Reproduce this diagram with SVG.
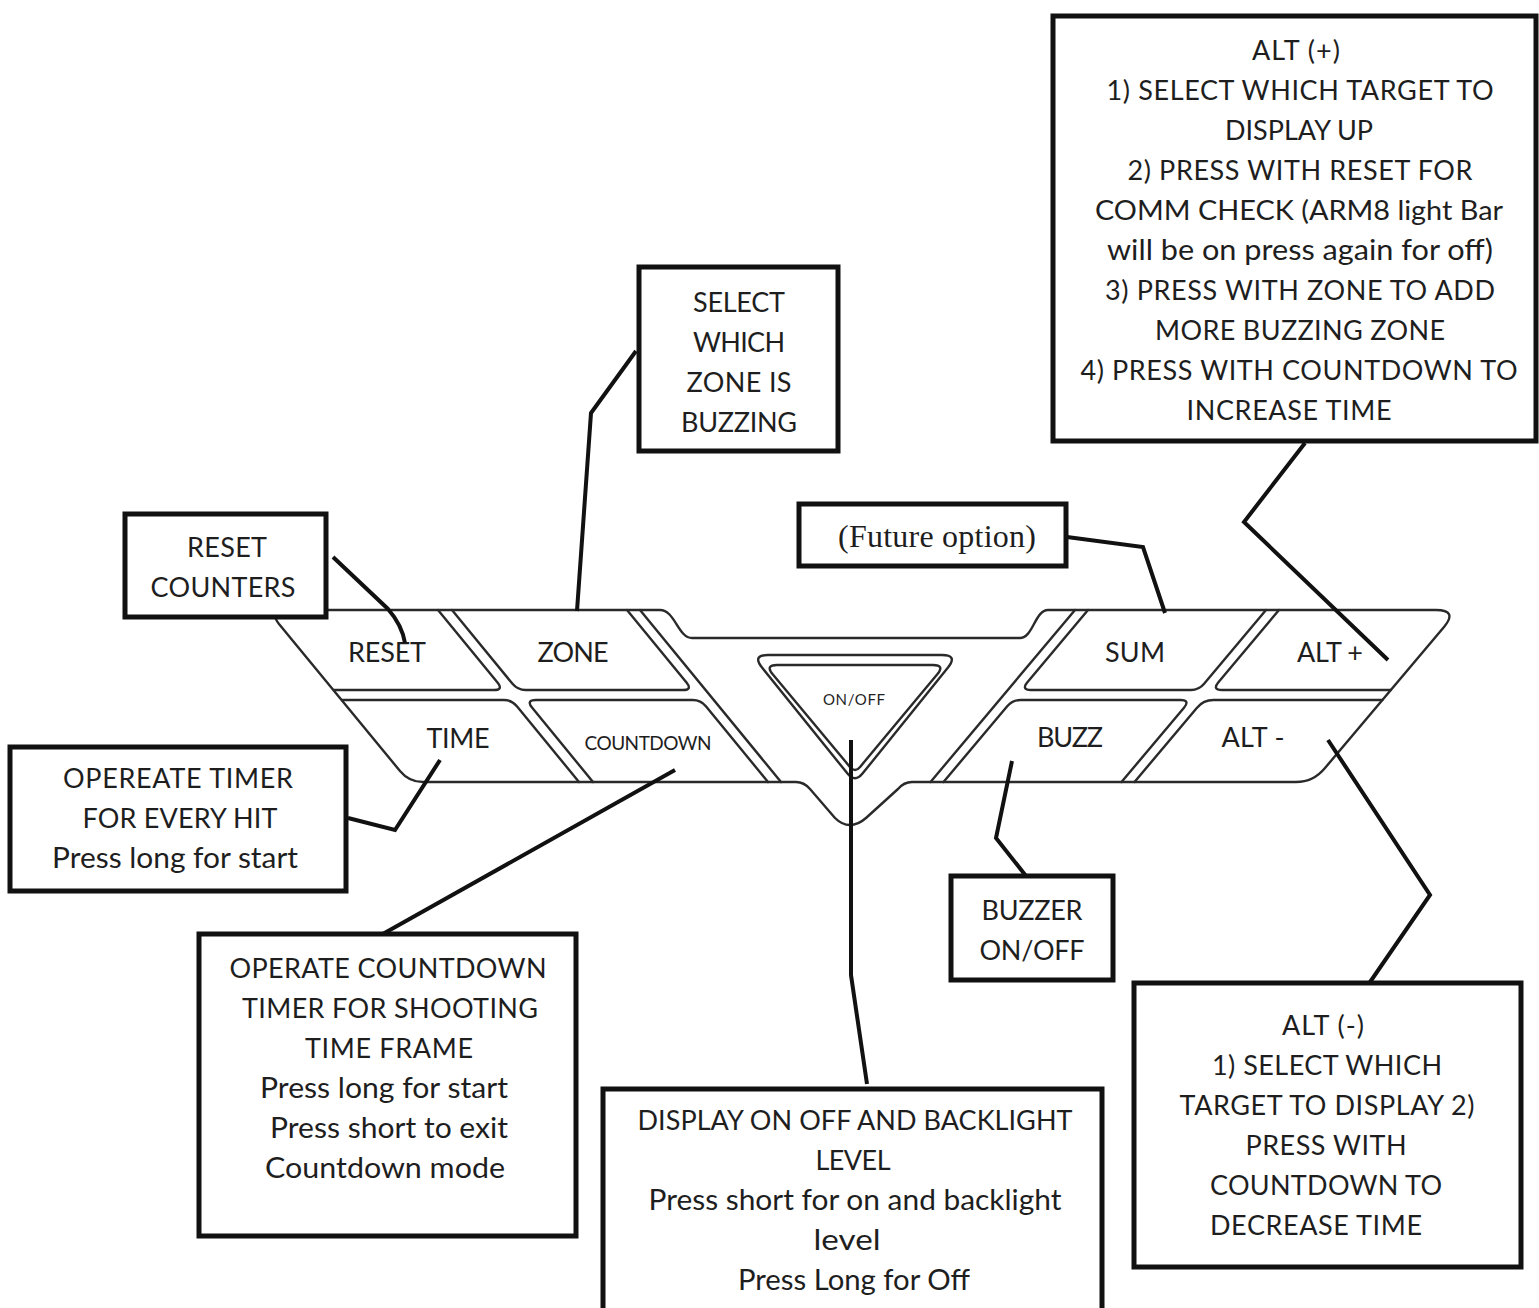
<svg xmlns="http://www.w3.org/2000/svg" width="1539" height="1308" viewBox="0 0 1539 1308">
<style>
.bg{fill:#ffffff}
.pad{fill:none;stroke:#2a2a2a;stroke-width:2.4;stroke-linejoin:round;stroke-linecap:round}
.box{fill:#ffffff;stroke:#111;stroke-width:5}
.con{fill:none;stroke:#111;stroke-width:4;stroke-linejoin:miter;stroke-linecap:butt}
.t{font-family:Lato,"Open Sans","Liberation Sans",sans-serif;font-size:27px;fill:#1e1e1e;text-anchor:middle}
.lc{font-size:28px}
.k{font-family:Lato,"Open Sans","Liberation Sans",sans-serif;font-size:27px;fill:#1e1e1e;text-anchor:middle}
.ks{font-size:19px}
.kx{font-size:15px}
.serif{font-family:"Liberation Serif","Times New Roman",serif;font-size:32px;fill:#1e1e1e;text-anchor:middle}
</style>
<rect class="bg" x="0" y="0" width="1539" height="1308"/>

<g id="keypad">
  <path class="pad" d="M286,610 L660,610 C675,610 678,638 692,638 L1020,638 C1033,638 1035,610 1048,610 L1436,610 Q1458,610 1444,627 L1325,768 Q1313.5,782 1296,782 L912,782 Q904,782 898,789 L866,818 Q858,825 850,825 Q842,825 835,818 L810,789 Q804,782 796,782 L423,782 Q409,782 400,771 L279,624 Q268,610 286,610 Z"/>
  <path class="pad" d="M334,690 L494,690 Q503.6,690 497.5,682.5 L438,610"/>
  <path class="pad" d="M452,610 L512.5,683.8 Q517.6,690 525.6,690 L683,690 Q692.6,690 686.5,682.5 L627,610"/>
  <path class="pad" d="M342,700 L504,700 Q511.8,700 516.9,706.2 L579,782"/>
  <path class="pad" d="M593,782 L532.2,707.8 Q525.8,700 536,700 L692.8,700 Q700.8,700 705.9,706.2 L768,782"/>
  <path class="pad" d="M640,610 L781,782"/>
  <path class="pad" d="M1075,610 L930.5,782"/>
  <path class="pad" d="M1088,610 L1027.4,682.3 Q1021,690 1031,690 L1191,690 Q1199,690 1204.1,683.8 L1266,610"/>
  <path class="pad" d="M1279,610 L1218.4,682.3 Q1212,690 1222,690 L1390.8,690"/>
  <path class="pad" d="M943.5,782 L1007,706.5 Q1012.4,700 1020.4,700 L1180.4,700 Q1190.4,700 1184,707.7 L1121.5,782"/>
  <path class="pad" d="M1134.5,782 L1197,707.7 Q1203.4,700 1213.4,700 L1382.4,700"/>
  <path class="pad" d="M768,655 L942,655 Q958,655 948,667.5 L862.5,773.6 Q855,783 847.5,773.6 L762,667.5 Q752,655 768,655 Z"/>
  <path class="pad" d="M777,665 L933,665 Q945,665 937.3,674.2 L860.1,766.9 Q855,773 849.9,766.9 L772.7,674.2 Q765,665 777,665 Z"/>
  <text class="k" x="387" y="662" textLength="78">RESET</text>
  <text class="k" x="573" y="662" textLength="71">ZONE</text>
  <text class="k" x="458" y="748" textLength="63">TIME</text>
  <text class="k ks" x="648" y="750" textLength="127">COUNTDOWN</text>
  <text class="k kx" x="854" y="705" textLength="62">ON/OFF</text>
  <text class="k" x="1135" y="662" textLength="60">SUM</text>
  <text class="k" x="1330" y="662" textLength="66">ALT +</text>
  <text class="k" x="1070" y="747" textLength="66">BUZZ</text>
  <text class="k" x="1253" y="747" textLength="63">ALT -</text>
</g>

<g id="connectors">
  <path class="con" d="M333,557 L388,609 Q402,625 405,643"/>
  <path class="con" d="M577,611 L591,413 L636,351"/>
  <path class="con" d="M348,818 L395,830 L440,760"/>
  <path class="con" d="M381,935 L675,770"/>
  <path class="con" d="M851,740 L851,975 L867,1084"/>
  <path class="con" d="M1067,537 L1143,547 L1165,613"/>
  <path class="con" d="M1305,443 L1244,522 L1388,660"/>
  <path class="con" d="M1012,761 L996,838 L1026,876"/>
  <path class="con" d="M1328,740 L1430,895 L1368,985"/>
</g>

<g id="reset-counters">
  <rect class="box" x="125" y="514" width="201" height="103"/>
  <text class="t" x="227" y="557" textLength="80">RESET</text>
  <text class="t" x="223" y="597" textLength="145">COUNTERS</text>
</g>

<g id="select-zone">
  <rect class="box" x="639" y="267" width="199" height="184"/>
  <text class="t" x="739" y="312" textLength="92">SELECT</text>
  <text class="t" x="739" y="352" textLength="92">WHICH</text>
  <text class="t" x="739" y="392" textLength="105">ZONE IS</text>
  <text class="t" x="739" y="432" textLength="116">BUZZING</text>
</g>

<g id="future-option">
  <rect class="box" x="799" y="504" width="267" height="62"/>
  <text class="serif" x="937" y="547" textLength="198">(Future option)</text>
</g>

<g id="alt-plus">
  <rect class="box" x="1053" y="16" width="483" height="425"/>
  <text class="t" x="1296" y="60" textLength="88">ALT (+)</text>
  <text class="t" x="1300" y="100" textLength="387">1) SELECT WHICH TARGET TO</text>
  <text class="t" x="1299" y="140" textLength="148">DISPLAY UP</text>
  <text class="t" x="1300" y="180" textLength="345">2) PRESS WITH RESET FOR</text>
  <text class="t" x="1299" y="220" textLength="408" lengthAdjust="spacingAndGlyphs">COMM CHECK (ARM8 light Bar</text>
  <text class="t lc" x="1300" y="260" textLength="386" lengthAdjust="spacingAndGlyphs">will be on press again for off)</text>
  <text class="t" x="1300" y="300" textLength="390">3) PRESS WITH ZONE TO ADD</text>
  <text class="t" x="1300" y="340" textLength="290">MORE BUZZING ZONE</text>
  <text class="t" x="1299" y="380" textLength="437">4) PRESS WITH COUNTDOWN TO</text>
  <text class="t" x="1289" y="420" textLength="205">INCREASE TIME</text>
</g>

<g id="operate-timer">
  <rect class="box" x="10" y="747" width="336" height="144"/>
  <text class="t" x="178" y="788" textLength="230">OPEREATE TIMER</text>
  <text class="t" x="180" y="828" textLength="195">FOR EVERY HIT</text>
  <text class="t lc" x="175" y="868" textLength="246" lengthAdjust="spacingAndGlyphs">Press long for start</text>
</g>

<g id="operate-countdown">
  <rect class="box" x="199" y="934" width="377" height="302"/>
  <text class="t" x="388" y="978" textLength="317">OPERATE COUNTDOWN</text>
  <text class="t" x="390" y="1018" textLength="296">TIMER FOR SHOOTING</text>
  <text class="t" x="389" y="1058" textLength="168">TIME FRAME</text>
  <text class="t lc" x="384" y="1098" textLength="248" lengthAdjust="spacingAndGlyphs">Press long for start</text>
  <text class="t lc" x="389" y="1138" textLength="238" lengthAdjust="spacingAndGlyphs">Press short to exit</text>
  <text class="t lc" x="385" y="1178" textLength="240" lengthAdjust="spacingAndGlyphs">Countdown mode</text>
</g>

<g id="display-onoff">
  <rect class="box" x="603" y="1089" width="499" height="240"/>
  <text class="t" x="855" y="1130" textLength="435">DISPLAY ON OFF AND BACKLIGHT</text>
  <text class="t" x="853" y="1170" textLength="75">LEVEL</text>
  <text class="t lc" x="855" y="1210" textLength="413" lengthAdjust="spacingAndGlyphs">Press short for on and backlight</text>
  <text class="t lc" x="847" y="1250" textLength="67" lengthAdjust="spacingAndGlyphs">level</text>
  <text class="t lc" x="854" y="1290" textLength="232" lengthAdjust="spacingAndGlyphs">Press Long for Off</text>
</g>

<g id="buzzer">
  <rect class="box" x="951" y="876" width="162" height="104"/>
  <text class="t" x="1032" y="920" textLength="101">BUZZER</text>
  <text class="t" x="1032" y="960" textLength="105">ON/OFF</text>
</g>

<g id="alt-minus">
  <rect class="box" x="1134" y="983" width="387" height="284"/>
  <text class="t" x="1323" y="1035" textLength="82">ALT (-)</text>
  <text class="t" x="1327" y="1075" textLength="230">1) SELECT WHICH</text>
  <text class="t" x="1327" y="1115" textLength="295">TARGET TO DISPLAY 2)</text>
  <text class="t" x="1326" y="1155" textLength="161">PRESS WITH</text>
  <text class="t" x="1326" y="1195" textLength="232">COUNTDOWN TO</text>
  <text class="t" x="1316" y="1235" textLength="212">DECREASE TIME</text>
</g>
</svg>
